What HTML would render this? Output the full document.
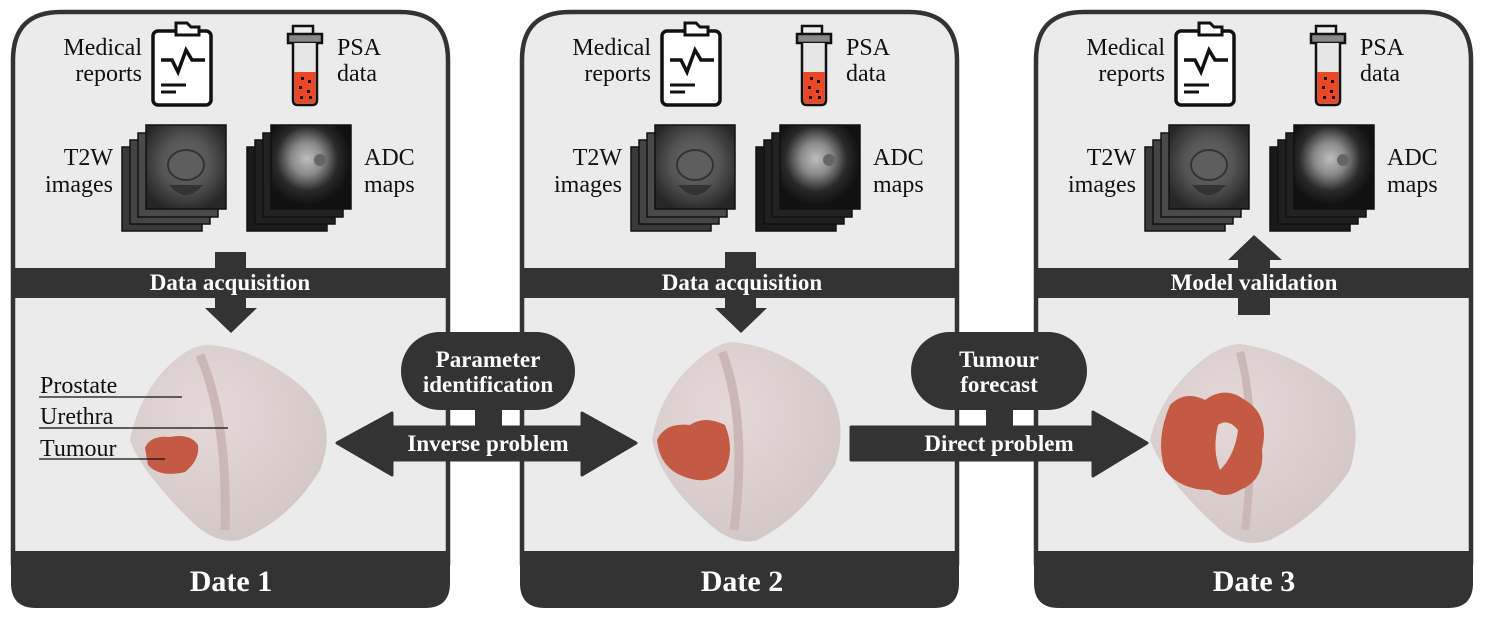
<!DOCTYPE html>
<html><head><meta charset="utf-8"><style>
html,body{margin:0;padding:0;background:#fff;}
svg{display:block;}
.t{font-family:"Liberation Serif",serif;font-size:24px;fill:#111;}
.b{font-family:"Liberation Serif",serif;font-weight:bold;fill:#fff;}
</style></head><body>
<svg width="1486" height="621" viewBox="0 0 1486 621" xmlns="http://www.w3.org/2000/svg">
<defs>
<radialGradient id="t2" cx="0.5" cy="0.45" r="0.6"><stop offset="0" stop-color="#6a6a6a"/><stop offset="0.5" stop-color="#555"/><stop offset="1" stop-color="#262626"/></radialGradient>
<radialGradient id="adc" cx="0.45" cy="0.4" r="0.55"><stop offset="0" stop-color="#bdbdbd"/><stop offset="0.35" stop-color="#8a8a8a"/><stop offset="0.7" stop-color="#2a2a2a"/><stop offset="1" stop-color="#111"/></radialGradient>
<radialGradient id="pro" cx="0.4" cy="0.35" r="0.7"><stop offset="0" stop-color="#e4d9d8"/><stop offset="1" stop-color="#d3c7c6"/></radialGradient>
<g id="panel">
  <path d="M2,553 L2,50 Q2,2 50,2 L389,2 Q437,2 437,50 L437,553 Z" fill="#ebebeb" stroke="#333" stroke-width="4.5"/>
  <path d="M0,541 L439,541 L439,573 Q439,598 414,598 L25,598 Q0,598 0,573 Z" fill="#333"/>
  <rect x="0" y="258" width="439" height="30" fill="#333"/>
  <rect x="142" y="21" width="58" height="74" rx="5" fill="#fff" stroke="#111" stroke-width="3.5"/>
  <path d="M165,21 L165,13 L176,13 L180,17 L188,17 L188,25 L165,25 Z" fill="#fff" stroke="#111" stroke-width="3"/>
  <path d="M150,50 L161,50 L167,62 L175,40 L181,50 L194,50" fill="none" stroke="#111" stroke-width="3.5"/>
  <line x1="150" y1="75" x2="175" y2="75" stroke="#111" stroke-width="3"/>
  <line x1="150" y1="82" x2="165" y2="82" stroke="#111" stroke-width="3"/>
  <rect x="282" y="16" width="20" height="10" fill="#eee" stroke="#111" stroke-width="2.5"/>
  <rect x="277" y="24" width="34" height="9" fill="#888" stroke="#111" stroke-width="2.5"/>
  <path d="M282,33 L282,90 Q282,95 287,95 L301,95 Q306,95 306,90 L306,33" fill="#e6e6e6" stroke="#111" stroke-width="2.5"/>
  <path d="M283.5,62 L304.5,62 L304.5,90 Q304.5,93.5 301,93.5 L287,93.5 Q283.5,93.5 283.5,90 Z" fill="#e94726"/>
  <rect x="290" y="67" width="3" height="3" fill="#111"/><rect x="297" y="70" width="3" height="3" fill="#111"/>
  <rect x="288" y="76" width="3" height="3" fill="#111"/><rect x="296" y="80" width="3" height="3" fill="#111"/>
  <rect x="289" y="86" width="3" height="3" fill="#111"/><rect x="298" y="86" width="3" height="3" fill="#111"/>
  <text class="t" x="131" y="45" text-anchor="end">Medical</text>
  <text class="t" x="131" y="71" text-anchor="end">reports</text>
  <text class="t" x="326" y="45">PSA</text>
  <text class="t" x="326" y="71">data</text>
  <text class="t" x="102" y="155" text-anchor="end">T2W</text>
  <text class="t" x="102" y="182" text-anchor="end">images</text>
  <text class="t" x="353" y="155">ADC</text>
  <text class="t" x="353" y="182">maps</text>
  <g stroke="#111" stroke-width="1.5">
    <rect x="111" y="137" width="80" height="84" fill="#3a3a3a"/>
    <rect x="119" y="130" width="80" height="84" fill="#444"/>
    <rect x="127" y="123" width="80" height="84" fill="#4a4a4a"/>
    <rect x="135" y="115" width="80" height="84" fill="url(#t2)"/>
    <rect x="236" y="137" width="80" height="84" fill="#1a1a1a"/>
    <rect x="244" y="130" width="80" height="84" fill="#202020"/>
    <rect x="252" y="123" width="80" height="84" fill="#222"/>
    <rect x="260" y="115" width="80" height="84" fill="url(#adc)"/>
  </g>
  <ellipse cx="175" cy="155" rx="18" ry="15" fill="#5e5e5e" stroke="#333" stroke-width="2"/>
  <path d="M158,175 Q175,195 192,175" fill="#333"/>
  <circle cx="309" cy="150" r="6" fill="#666"/>
</g>
</defs>

<use href="#panel" x="11" y="10"/>
<use href="#panel" x="520" y="10"/>
<use href="#panel" x="1034" y="10"/>

<path d="M215,252 L246,252 L246,308 L257,308 L231,333 L205,308 L215,308 Z" fill="#333"/>
<path d="M725,252 L756,252 L756,308 L767,308 L741,333 L715,308 L725,308 Z" fill="#333"/>
<path d="M1238,315 L1270,315 L1270,260 L1282,260 L1254,235 L1228,260 L1238,260 Z" fill="#333"/>
<text class="b" x="1254" y="290" font-size="23" text-anchor="middle">Model validation</text>
<text class="b" x="230" y="290" font-size="23" text-anchor="middle">Data acquisition</text>
<text class="b" x="742" y="290" font-size="23" text-anchor="middle">Data acquisition</text>

<g>
<path d="M205,345 Q250,345 300,385 Q340,420 320,470 Q290,520 240,540 Q215,545 190,520 Q140,470 130,440 Q140,390 175,360 Q190,347 205,345 Z" fill="url(#pro)"/>
<path d="M200,355 Q228,420 225,530" fill="none" stroke="#c9b8b6" stroke-width="9"/>
<path d="M145,448 Q150,435 170,437 Q190,433 198,445 Q200,460 185,472 Q160,478 148,465 Z" fill="#c45a44"/>
</g>
<g>
<path d="M730,342 Q780,345 825,385 Q850,420 835,465 Q800,520 755,541 Q730,545 705,520 Q660,480 652,440 Q660,390 700,358 Q715,345 730,342 Z" fill="url(#pro)"/>
<path d="M722,352 Q748,420 734,530" fill="none" stroke="#c9b8b6" stroke-width="9"/>
<path d="M657,440 Q665,422 690,425 Q705,415 725,425 Q735,450 725,470 Q710,485 688,478 Q660,470 657,440 Z" fill="#c45a44"/>
</g>
<g>
<path d="M1240,344 Q1290,350 1340,390 Q1365,420 1350,470 Q1320,515 1270,540 Q1240,550 1215,525 Q1165,480 1150,440 Q1160,395 1200,362 Q1220,345 1240,344 Z" fill="url(#pro)"/>
<path d="M1240,352 Q1258,420 1245,530" fill="none" stroke="#c9b8b6" stroke-width="8"/>
<path d="M1170,405 Q1185,390 1205,400 Q1225,385 1245,400 Q1270,415 1262,450 Q1265,480 1240,490 Q1225,500 1210,490 Q1180,490 1165,470 Q1155,440 1170,405 Z M1218,425 Q1212,450 1220,470 Q1235,455 1238,430 Q1228,418 1218,425 Z" fill="#c45a44" fill-rule="evenodd"/>
</g>

<text class="t" x="40" y="393" font-size="22">Prostate</text>
<text class="t" x="40" y="424" font-size="22">Urethra</text>
<text class="t" x="40" y="456" font-size="22">Tumour</text>
<line x1="39" y1="397" x2="182" y2="397" stroke="#111" stroke-width="1.3"/>
<line x1="39" y1="428" x2="228" y2="428" stroke="#111" stroke-width="1.3"/>
<line x1="39" y1="459" x2="165" y2="459" stroke="#111" stroke-width="1.3"/>

<rect x="401" y="332" width="174" height="78" rx="39" fill="#333"/>
<rect x="475" y="405" width="27" height="25" fill="#333"/>
<path d="M337,443 L392,413 L392,427 L582,427 L582,413 L636,443 L582,475 L582,460 L392,460 L392,475 Z" fill="#333" stroke="#333" stroke-width="3" stroke-linejoin="round"/>
<text class="b" x="488" y="367" font-size="23" text-anchor="middle">Parameter</text>
<text class="b" x="488" y="392" font-size="23" text-anchor="middle">identification</text>
<text class="b" x="488" y="451" font-size="23" text-anchor="middle">Inverse problem</text>

<rect x="911" y="332" width="176" height="78" rx="39" fill="#333"/>
<rect x="986" y="405" width="27" height="25" fill="#333"/>
<path d="M851,427 L1093,427 L1093,412 L1147,443 L1093,476 L1093,460 L851,460 Z" fill="#333" stroke="#333" stroke-width="3" stroke-linejoin="round"/>
<text class="b" x="999" y="367" font-size="23" text-anchor="middle">Tumour</text>
<text class="b" x="999" y="392" font-size="23" text-anchor="middle">forecast</text>
<text class="b" x="999" y="451" font-size="23" text-anchor="middle">Direct problem</text>

<text class="b" x="231" y="591" font-size="30" text-anchor="middle">Date 1</text>
<text class="b" x="742" y="591" font-size="30" text-anchor="middle">Date 2</text>
<text class="b" x="1254" y="591" font-size="30" text-anchor="middle">Date 3</text>
</svg>
</body></html>
